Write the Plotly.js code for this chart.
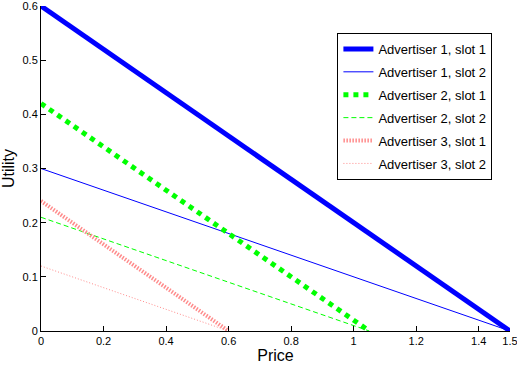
<!DOCTYPE html>
<html>
<head>
<meta charset="utf-8">
<script src="https://cdn.plot.ly/plotly-3.0.1.min.js"></script>
<style>html,body{margin:0;padding:0;background:#fff;}#chart{width:517px;height:371px;}</style>
</head>
<body>
<div id="chart"></div>
<script>
var seriesNames = ["Advertiser 1, slot 1", "Advertiser 1, slot 2", "Advertiser 2, slot 1", "Advertiser 2, slot 2", "Advertiser 3, slot 1", "Advertiser 3, slot 2"];
var adv1Price = [0, 1.5];
var adv1Slot1 = [0.6, 0];
var adv1Slot2 = [0.3, 0];
var adv2Price = [0, 1.05];
var adv2Slot1 = [0.42, 0];
var adv2Slot2 = [0.21, 0];
var adv3Price = [0, 0.6];
var adv3Slot1 = [0.24, 0];
var adv3Slot2 = [0.12, 0];
var xTicks = [0, 0.2, 0.4, 0.6, 0.8, 1, 1.2, 1.4, 1.5];
var xTickText = ["0", "0.2", "0.4", "0.6", "0.8", "1", "1.2", "1.4", "1.5"];
var yTicks = [0, 0.1, 0.2, 0.3, 0.4, 0.5, 0.6];
var yTickText = ["0", "0.1", "0.2", "0.3", "0.4", "0.5", "0.6"];

var styles = [
  {color: "#0000ff", width: 5, dash: "solid"},
  {color: "#0000ff", width: 1, dash: "solid"},
  {color: "#00ff00", width: 5, dash: "5px,5px"},
  {color: "#00ff00", width: 1, dash: "5px,3px"},
  {color: "#ff8c8c", width: 4, dash: "1.5px,1.5px"},
  {color: "#ff8c8c", width: 1, dash: "1px,2px"}
];
var xs = [adv1Price, adv1Price, adv2Price, adv2Price, adv3Price, adv3Price];
var ys = [adv1Slot1, adv1Slot2, adv2Slot1, adv2Slot2, adv3Slot1, adv3Slot2];

var traces = seriesNames.map(function(n, i) {
  return {x: xs[i], y: ys[i], name: n, legendgroup: "g" + i, type: "scatter", mode: "lines", line: styles[i], cliponaxis: false};
});

var layout = {
  width: 517, height: 371,
  margin: {l: 41, r: 7, t: 6, b: 40},
  paper_bgcolor: "#fff", plot_bgcolor: "#fff",
  font: {family: "Liberation Sans, Arial, sans-serif", color: "#000", size: 11},
  showlegend: true,
  legend: {x: 0.632, y: 0.917, xanchor: "left", yanchor: "top", bordercolor: "#000", borderwidth: 1, bgcolor: "#fff", font: {size: 13}, tracegroupgap: 3},
  xaxis: {
    range: [-0.000001, 1.500001], tickvals: xTicks, ticktext: xTickText, ticks: "inside", ticklen: 5, tickcolor: "#000",
    ticklabeloverflow: "allow",
    showline: true, linecolor: "#000", linewidth: 1, showgrid: false, zeroline: false, mirror: false,
    title: {text: "Price", font: {size: 16}, standoff: 2}, tickfont: {size: 11}
  },
  yaxis: {
    range: [-0.000001, 0.600001], tickvals: yTicks, ticktext: yTickText, ticks: "inside", ticklen: 5, tickcolor: "#000",
    ticklabeloverflow: "allow",
    showline: true, linecolor: "#000", linewidth: 1, showgrid: false, zeroline: false, mirror: false,
    title: {text: "Utility", font: {size: 16}, standoff: 4}, tickfont: {size: 11}
  }
};
Plotly.newPlot("chart", traces, layout, {displayModeBar: false, staticPlot: true});
</script>
</body>
</html>
